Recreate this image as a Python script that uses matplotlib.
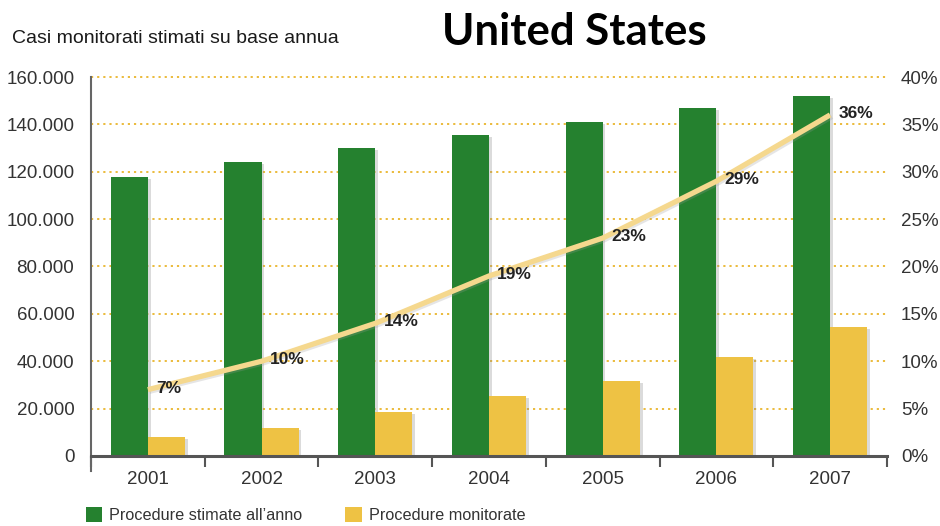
import numpy as np
import matplotlib.pyplot as plt
import matplotlib.patheffects as pe
from matplotlib.patches import Patch
from matplotlib.ticker import FuncFormatter

# Dati
anni = ["2001", "2002", "2003", "2004", "2005", "2006", "2007"]
stimate = [117800, 124100, 130000, 135500, 141000, 146900, 152000]
monitorate = [8000, 11800, 18600, 25300, 31700, 41800, 54500]
percentuali = [7, 10, 14, 19, 23, 29, 36]

verde = "#25812f"
giallo = "#eec244"
linea = "#f5d88e"
testo = "#333333"

plt.rcParams['font.family'] = ['Liberation Sans', 'DejaVu Sans']

fig = plt.figure(figsize=(9.4, 5.26), dpi=100)
ax = fig.add_axes([0.0968, 0.1331, 0.8468, 0.7205])
ax2 = ax.twinx()

x = np.arange(len(anni))
w = 0.326
ombra = [pe.SimplePatchShadow(offset=(2, -1.5), shadow_rgbFace="#888888", alpha=0.3), pe.Normal()]
ax.bar(x - w / 2, stimate, w, color=verde, zorder=3, path_effects=ombra)
ax.bar(x + w / 2, monitorate, w, color=giallo, zorder=3, path_effects=ombra)

# griglia tratteggiata
for v in range(20000, 160001, 20000):
    ax.axhline(v, color="#e9b52c", lw=1.3, ls=(0, (1.2, 2.2)), zorder=1, clip_on=False)

ax.set_xlim(-0.5, len(anni) - 0.5)
ax.set_ylim(0, 160000)
ax.set_yticks(range(0, 160001, 20000))
ax.yaxis.set_major_formatter(FuncFormatter(lambda v, p: f"{int(v):,}".replace(",", ".")))
ax.tick_params(axis="y", length=0, pad=12, labelsize=13.5, labelcolor=testo)

ax.set_xticks(x)
ax.set_xticklabels(anni)
ax.set_xticks(np.arange(-0.5, len(anni)), minor=True)
ax.tick_params(axis="x", which="major", length=0, pad=11, labelsize=13.5, labelcolor=testo)
ax.tick_params(axis="x", which="minor", length=8, width=1.5, color="#555555", direction="out")

for a in (ax, ax2):
    for s in a.spines.values():
        s.set_visible(False)
ax.spines["left"].set_visible(True)
ax.spines["left"].set_color("#666666")
ax.spines["left"].set_linewidth(1.5)
ax.spines["left"].set_bounds(-6500, 160000)
ax.spines["bottom"].set_visible(True)
ax.spines["bottom"].set_color("#555555")
ax.spines["bottom"].set_linewidth(2.2)
ax.spines["bottom"].set_zorder(4)

# asse destro in percentuale
ax2.set_ylim(0, 40)
ax2.set_yticks(range(0, 41, 5))
ax2.set_yticklabels([f"{v}%" for v in range(0, 41, 5)])
ax2.tick_params(axis="y", length=0, pad=10, labelsize=13.5, labelcolor=testo)

ombra_linea = [pe.SimpleLineShadow(offset=(1.2, -1.2), shadow_color="#999999", alpha=0.25), pe.Normal()]
ax2.plot(x, percentuali, color=linea, lw=3.8, solid_capstyle="butt", zorder=5, path_effects=ombra_linea)
for xi, p in zip(x, percentuali):
    ax2.annotate(f"{p}%", (xi, p), xytext=(6, 1), textcoords="offset points",
                 ha="left", va="center", fontsize=12.5, fontweight="bold", color="#222222",
                 family=["Liberation Sans Narrow", "Liberation Sans", "DejaVu Sans"], zorder=6)

fig.text(0.611, 0.94, "United States", ha="center", va="center", fontsize=31.5,
         fontweight="bold", family=["Lato", "DejaVu Sans"], color="#000000")
fig.text(0.013, 0.926, "Casi monitorati stimati su base annua", ha="left", va="center",
         fontsize=14, color="#1a1a1a")

maniglie = [Patch(facecolor=verde, label="Procedure stimate all\u2019anno"),
            Patch(facecolor=giallo, label="Procedure monitorate")]
fig.legend(handles=maniglie, loc="center left", bbox_to_anchor=(0.0755, 0.021), ncol=2,
           frameon=False, fontsize=11.7, handlelength=1.0, handleheight=1.0,
           handletextpad=0.45, columnspacing=2.65, labelcolor=testo)

fig.savefig("out.png", dpi=100)
